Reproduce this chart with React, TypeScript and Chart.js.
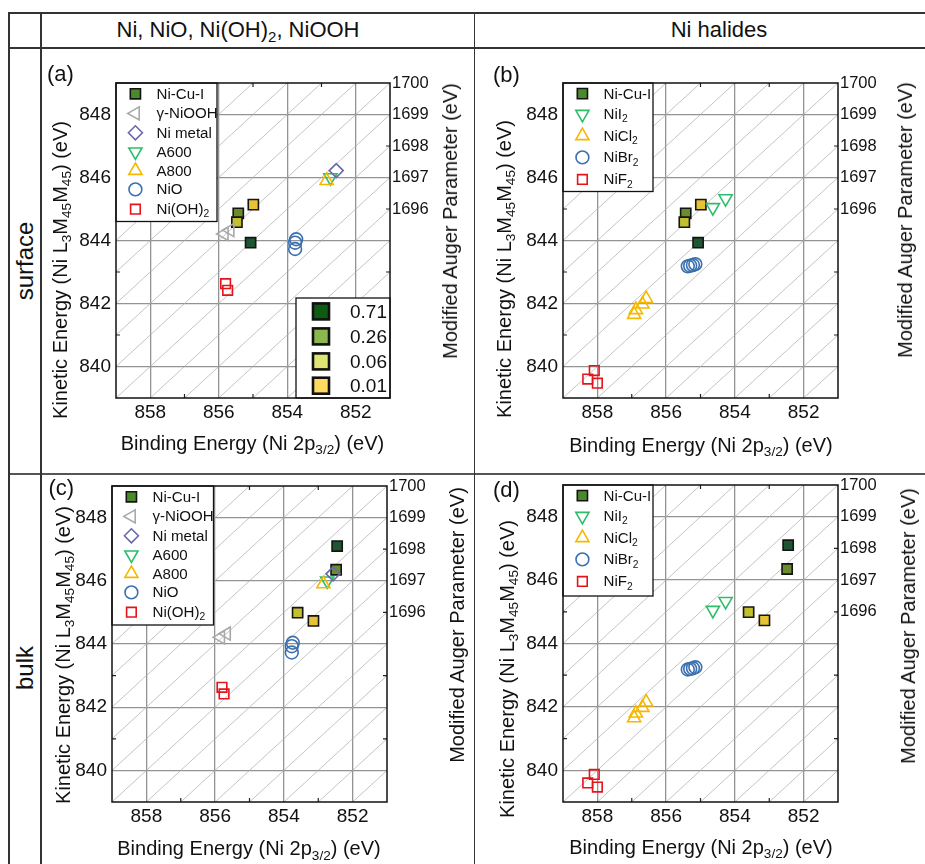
import React, { useEffect, useRef } from 'react';
import { Chart, registerables } from 'chart.js';

Chart.register(...registerables);

const FONT = "'Liberation Sans', Arial, Helvetica, sans-serif";

// ---------- data ----------
// Ni-Cu-I sample points, coloured by fraction
const fractionLabels = ['0.71', '0.26', '0.06', '0.01'];
const fractionSwatchColors = ['#0d5c12', '#8cb64e', '#dde672', '#ffd960'];
const niCuIPointColors = ['#1d5631', '#6b8c2e', '#c3bf2d', '#e8c235'];

const niCuISurfaceBE = [855.07, 855.43, 855.47, 854.99];
const niCuISurfaceKE = [843.93, 844.86, 844.58, 845.14];
const niCuIBulkBE = [852.45, 852.48, 853.6, 853.14];
const niCuIBulkKE = [847.1, 846.35, 844.99, 844.73];

// references: Ni, NiO, Ni(OH)2, NiOOH
const gNiOOHBE = [855.84, 855.67];
const gNiOOHKE = [844.21, 844.33];
const niMetalBE = [852.57];
const niMetalKE = [846.22];
const a600BE = [852.74];
const a600KE = [846.0];
const a800BE = [852.85];
const a800KE = [845.9];
const nioBE = [853.74, 853.77, 853.77];
const nioKE = [844.04, 843.93, 843.73];
const niOH2BE = [855.8, 855.74];
const niOH2KE = [842.63, 842.42];

// references: Ni halides
const niI2BE = [854.64, 854.27];
const niI2KE = [845.05, 845.33];
const niCl2BE = [856.93, 856.88, 856.69, 856.58];
const niCl2KE = [841.65, 841.8, 841.98, 842.15];
const niBr2BE = [855.37, 855.3, 855.22, 855.15];
const niBr2KE = [843.18, 843.2, 843.22, 843.25];
const niF2BE = [858.28, 858.09, 858.0];
const niF2KE = [839.6, 839.87, 839.47];

// axes
const beRange = [851, 859];
const keRange = [839, 849];
const augerRange = [1690, 1700];
const beTicks = [858, 856, 854, 852];
const beMinorTicks = [857, 855, 853];
const keTicks = [840, 842, 844, 846, 848];
const keMinorTicks = [841, 843, 845, 847];
const augerTicks = [1696, 1697, 1698, 1699, 1700];
const augerLines = [1691, 1692, 1693, 1694, 1695, 1696, 1697, 1698, 1699, 1700, 1701, 1702, 1703, 1704, 1705, 1706, 1707];

// ---------- styles ----------
const M: any = {
  niCuI: { style: 'rect', r: 7.2, rot: 0, stroke: '#141414', lw: 1.6 },
  gNiOOH: { style: 'triangle', r: 7.6, rot: 270, stroke: '#a9a9a9', lw: 1.6 },
  niMetal: { style: 'rectRot', r: 7, rot: 0, stroke: '#6868aa', lw: 1.6 },
  down: { style: 'triangle', r: 7.6, rot: 180, stroke: '#2dbd6b', lw: 1.6 },
  up: { style: 'triangle', r: 7.6, rot: 0, stroke: '#f5b800', lw: 1.6 },
  circle: { style: 'circle', r: 6.4, rot: 0, stroke: '#3b70b0', lw: 1.6 },
  square: { style: 'rect', r: 6.8, rot: 0, stroke: '#e5141b', lw: 1.6 },
};
const NI_CU_I_LEGEND_FILL = '#4b8a2b';

function drawMarker(ctx: any, mk: any, x: number, y: number, fill?: string) {
  const r = mk.r;
  ctx.save();
  ctx.beginPath();
  if (mk.style === 'circle') {
    ctx.arc(x, y, r, 0, Math.PI * 2);
  } else if (mk.style === 'rect') {
    const s = r * Math.SQRT1_2;
    ctx.rect(x - s, y - s, 2 * s, 2 * s);
  } else if (mk.style === 'rectRot') {
    ctx.moveTo(x - r, y);
    ctx.lineTo(x, y - r);
    ctx.lineTo(x + r, y);
    ctx.lineTo(x, y + r);
    ctx.closePath();
  } else {
    let a = (mk.rot * Math.PI) / 180;
    for (let i = 0; i < 3; i++) {
      const px = x + Math.sin(a) * r;
      const py = y - Math.cos(a) * r;
      if (i === 0) ctx.moveTo(px, py);
      else ctx.lineTo(px, py);
      a += (2 * Math.PI) / 3;
    }
    ctx.closePath();
  }
  if (fill) {
    ctx.fillStyle = fill;
    ctx.fill();
  }
  ctx.lineWidth = mk.lw;
  ctx.strokeStyle = mk.stroke;
  ctx.stroke();
  ctx.restore();
}

function ds(label: string, be: number[], ke: number[], mk: any, fills?: string[]) {
  return {
    type: 'scatter',
    label,
    data: be.map((x, i) => ({ x, y: ke[i] })),
    showLine: false,
    pointStyle: mk.style,
    pointRadius: mk.r,
    pointHoverRadius: mk.r,
    pointRotation: mk.rot,
    pointBackgroundColor: fills || 'rgba(0,0,0,0)',
    pointBorderColor: mk.stroke,
    pointBorderWidth: mk.lw,
    pointHoverBorderWidth: mk.lw,
  };
}

const refLegend = [
  { label: 'Ni-Cu-I', mk: M.niCuI, fill: NI_CU_I_LEGEND_FILL },
  { label: 'γ-NiOOH', mk: M.gNiOOH },
  { label: 'Ni metal', mk: M.niMetal },
  { label: 'A600', mk: M.down },
  { label: 'A800', mk: M.up },
  { label: 'NiO', mk: M.circle },
  { label: 'Ni(OH)_{2}', mk: M.square },
];
const refRows = [10.8, 30.4, 49.8, 68.8, 87.6, 106.4, 126.2];

const halLegend = [
  { label: 'Ni-Cu-I', mk: M.niCuI, fill: NI_CU_I_LEGEND_FILL },
  { label: 'NiI_{2}', mk: M.down },
  { label: 'NiCl_{2}', mk: M.up },
  { label: 'NiBr_{2}', mk: M.circle },
  { label: 'NiF_{2}', mk: M.square },
];
const halRows = [10.6, 31.2, 52.8, 74.4, 96.4];

function refDatasets(be: number[], ke: number[]) {
  return [
    ds('Ni(OH)2', niOH2BE, niOH2KE, M.square),
    ds('NiO', nioBE, nioKE, M.circle),
    ds('Ni metal', niMetalBE, niMetalKE, M.niMetal),
    ds('A800', a800BE, a800KE, M.up),
    ds('A600', a600BE, a600KE, M.down),
    ds('γ-NiOOH', gNiOOHBE, gNiOOHKE, M.gNiOOH),
    ds('Ni-Cu-I', be, ke, M.niCuI, niCuIPointColors),
  ];
}
function halDatasets(be: number[], ke: number[]) {
  return [
    ds('NiF2', niF2BE, niF2KE, M.square),
    ds('NiBr2', niBr2BE, niBr2KE, M.circle),
    ds('NiCl2', niCl2BE, niCl2KE, M.up),
    ds('NiI2', niI2BE, niI2KE, M.down),
    ds('Ni-Cu-I', be, ke, M.niCuI, niCuIPointColors),
  ];
}

// panel geometry (page pixels)
const AX_L = 80;
const PAD_T = 12;
const AX_R = 62;
const AX_B = 40;

const panels = [
  {
    id: '(a)', L: 116, T: 83, W: 274, H: 315,
    datasets: () => refDatasets(niCuISurfaceBE, niCuISurfaceKE),
    legend: refLegend, rows: refRows, boxW: 101, boxH: 138.5, inset: true,
    tag: [47, 74], leftT: [60, 270], rightT: [450, 221], botT: [252.5, 443],
  },
  {
    id: '(b)', L: 563, T: 83, W: 275, H: 315,
    datasets: () => halDatasets(niCuISurfaceBE, niCuISurfaceKE),
    legend: halLegend, rows: halRows, boxW: 90, boxH: 108.5, inset: false,
    tag: [493, 75], leftT: [503.5, 269], rightT: [905, 220], botT: [701, 445],
  },
  {
    id: '(c)', L: 112, T: 486, W: 275, H: 316,
    datasets: () => refDatasets(niCuIBulkBE, niCuIBulkKE),
    legend: refLegend, rows: refRows, boxW: 101.5, boxH: 139, inset: false,
    tag: [48.5, 488], leftT: [63.3, 655], rightT: [456.7, 625], botT: [249, 848.3],
  },
  {
    id: '(d)', L: 563, T: 485, W: 275, H: 317,
    datasets: () => halDatasets(niCuIBulkBE, niCuIBulkKE),
    legend: halLegend, rows: halRows, boxW: 90, boxH: 111, inset: false,
    tag: [493, 490], leftT: [506.7, 669], rightT: [908.3, 626], botT: [701, 846.7],
  },
];

const decorPlugin: any = {
  id: 'decor',
  beforeDatasetsDraw(chart: any) {
    const { ctx, chartArea: ca, scales } = chart;
    const xs = scales.x;
    const ys = scales.y;
    ctx.save();
    ctx.beginPath();
    ctx.rect(ca.left, ca.top, ca.right - ca.left, ca.bottom - ca.top);
    ctx.clip();
    ctx.strokeStyle = '#ababab';
    ctx.lineWidth = 0.7;
    for (const c of augerLines) {
      const x1 = xs.getPixelForValue(beRange[1]);
      const y1 = ys.getPixelForValue(c - beRange[1]);
      const x2 = xs.getPixelForValue(beRange[0]);
      const y2 = ys.getPixelForValue(c - beRange[0]);
      ctx.beginPath();
      ctx.moveTo(x1, y1);
      ctx.lineTo(x2, y2);
      ctx.stroke();
    }
    ctx.restore();

    // inward minor ticks
    ctx.save();
    ctx.strokeStyle = '#222';
    ctx.lineWidth = 1.2;
    const tl = 4;
    for (const v of beMinorTicks) {
      const x = xs.getPixelForValue(v);
      ctx.beginPath();
      ctx.moveTo(x, ca.bottom);
      ctx.lineTo(x, ca.bottom - tl);
      ctx.moveTo(x, ca.top);
      ctx.lineTo(x, ca.top + tl);
      ctx.stroke();
    }
    for (const v of keMinorTicks) {
      const y = ys.getPixelForValue(v);
      ctx.beginPath();
      ctx.moveTo(ca.left, y);
      ctx.lineTo(ca.left + tl, y);
      ctx.moveTo(ca.right, y);
      ctx.lineTo(ca.right - tl, y);
      ctx.stroke();
    }
    ctx.restore();
  },
  afterDatasetsDraw(chart: any, _a: any, opts: any) {
    const { ctx, chartArea: ca } = chart;
    // legend box
    ctx.save();
    ctx.fillStyle = '#fff';
    ctx.fillRect(ca.left, ca.top, opts.boxW, opts.boxH);
    ctx.strokeStyle = '#111';
    ctx.lineWidth = 1.3;
    ctx.strokeRect(ca.left, ca.top, opts.boxW, opts.boxH);
    opts.legend.forEach((e: any, i: number) => {
      drawMarker(ctx, e.mk, ca.left + 19.4, ca.top + opts.rows[i], e.fill);
    });
    ctx.restore();

    if (opts.inset) {
      const bw = 94;
      const bh = 100;
      const bx = ca.right - bw;
      const by = ca.bottom - bh;
      ctx.save();
      ctx.fillStyle = '#fff';
      ctx.fillRect(bx, by, bw, bh);
      ctx.strokeStyle = '#111';
      ctx.lineWidth = 1.3;
      ctx.strokeRect(bx, by, bw, bh);
      const rowsY = [13.4, 38.4, 63.4, 87.7];
      ctx.font = `19px ${FONT}`;
      ctx.textBaseline = 'middle';
      ctx.textAlign = 'left';
      fractionLabels.forEach((lab, i) => {
        const cy = by + rowsY[i];
        ctx.fillStyle = fractionSwatchColors[i];
        ctx.fillRect(bx + 25 - 8, cy - 8, 16, 16);
        ctx.lineWidth = 2.6;
        ctx.strokeStyle = '#111';
        ctx.strokeRect(bx + 25 - 8, cy - 8, 16, 16);
        ctx.fillStyle = '#111';
        ctx.fillText(lab, bx + 54, cy + 1);
      });
      ctx.restore();
    }

    // frame
    ctx.save();
    ctx.strokeStyle = '#111';
    ctx.lineWidth = 1.5;
    ctx.strokeRect(ca.left, ca.top, ca.right - ca.left, ca.bottom - ca.top);
    ctx.restore();
  },
};

function Rich({ text }: { text: string }) {
  const parts = text.split(/(_\{[^}]*\})/);
  return (
    <>
      {parts.map((p, i) =>
        p.startsWith('_{') ? (
          <span key={i} style={{ fontSize: '0.68em', position: 'relative', top: '0.32em', lineHeight: 0 }}>
            {p.slice(2, -1)}
          </span>
        ) : (
          <span key={i}>{p}</span>
        )
      )}
    </>
  );
}

function Txt({ x, y, size, text, rotate, anchor }: any) {
  const tr = rotate
    ? 'translate(-50%,-50%) rotate(-90deg)'
    : anchor === 'left'
    ? 'translate(0,-50%)'
    : 'translate(-50%,-50%)';
  return (
    <div
      style={{
        position: 'absolute',
        left: x,
        top: y,
        transform: tr,
        fontSize: size,
        lineHeight: 1,
        whiteSpace: 'nowrap',
        color: '#111',
      }}
    >
      <Rich text={text} />
    </div>
  );
}

function Panel({ p }: { p: any }) {
  const ref = useRef<HTMLCanvasElement>(null);
  const cw = AX_L + p.W + AX_R;
  const ch = PAD_T + p.H + AX_B;
  useEffect(() => {
    if (!ref.current) return;
    const fixPad = (s: any) => {
      s.paddingLeft = 0;
      s.paddingRight = 0;
      s.paddingTop = 0;
      s.paddingBottom = 0;
    };
    const chart = new Chart(ref.current, {
      type: 'scatter',
      data: { datasets: p.datasets() as any },
      plugins: [decorPlugin],
      options: {
        responsive: false,
        animation: false,
        events: [],
        layout: { padding: { left: 0, top: PAD_T, right: 0, bottom: 0 } },
        plugins: {
          legend: { display: false },
          tooltip: { enabled: false },
          decor: { legend: p.legend, rows: p.rows, boxW: p.boxW, boxH: p.boxH, inset: p.inset },
        } as any,
        scales: {
          x: {
            type: 'linear',
            position: 'bottom',
            min: beRange[0],
            max: beRange[1],
            reverse: true,
            afterBuildTicks: (s: any) => {
              s.ticks = beTicks.map((v) => ({ value: v }));
            },
            afterFit: (s: any) => {
              s.height = AX_B;
              fixPad(s);
            },
            grid: { color: '#939393', lineWidth: 1.3, drawTicks: false },
            border: { display: false },
            ticks: {
              autoSkip: false,
              maxRotation: 0,
              padding: 3,
              color: '#111',
              font: { family: FONT, size: 19 },
              callback: (v: any) => String(v),
            },
          },
          y: {
            type: 'linear',
            position: 'left',
            min: keRange[0],
            max: keRange[1],
            afterBuildTicks: (s: any) => {
              s.ticks = keTicks.map((v) => ({ value: v }));
            },
            afterFit: (s: any) => {
              s.width = AX_L;
              fixPad(s);
            },
            grid: { color: '#939393', lineWidth: 1.3, drawTicks: false },
            border: { display: false },
            ticks: {
              autoSkip: false,
              padding: 5,
              color: '#111',
              font: { family: FONT, size: 19 },
              callback: (v: any) => String(v),
            },
          },
          y2: {
            type: 'linear',
            position: 'right',
            min: augerRange[0],
            max: augerRange[1],
            afterBuildTicks: (s: any) => {
              s.ticks = augerTicks.map((v) => ({ value: v }));
            },
            afterFit: (s: any) => {
              s.width = AX_R;
              fixPad(s);
            },
            grid: { display: false, drawTicks: false },
            border: { display: false },
            ticks: {
              autoSkip: false,
              padding: 2,
              color: '#111',
              font: { family: FONT, size: 16.5 },
              callback: (v: any) => String(v),
            },
          },
        } as any,
      },
    });
    return () => chart.destroy();
  }, []);

  return (
    <>
      <canvas
        ref={ref}
        width={cw}
        height={ch}
        style={{ position: 'absolute', left: p.L - AX_L, top: p.T - PAD_T, width: cw, height: ch }}
      />
      {p.legend.map((e: any, i: number) => (
        <Txt key={i} x={p.L + 40.5} y={p.T + p.rows[i]} size={15.1} text={e.label} anchor="left" />
      ))}
      <Txt x={p.tag[0]} y={p.tag[1]} size={22} text={p.id} anchor="left" />
      <Txt x={p.leftT[0]} y={p.leftT[1]} size={20} text="Kinetic Energy (Ni L_{3}M_{45}M_{45}) (eV)" rotate />
      <Txt x={p.rightT[0]} y={p.rightT[1]} size={20} text="Modified Auger Parameter (eV)" rotate />
      <Txt x={p.botT[0]} y={p.botT[1]} size={20} text="Binding Energy (Ni 2p_{3/2}) (eV)" />
    </>
  );
}

const LINE = '#333';

export default function App() {
  return (
    <div
      style={{
        position: 'fixed',
        left: 0,
        top: 0,
        width: 925,
        height: 864,
        background: '#fff',
        overflow: 'hidden',
        fontFamily: FONT,
      }}
    >
      {/* table rules */}
      <div style={{ position: 'absolute', left: 8, top: 12, width: 917, height: 1.5, background: LINE }} />
      <div style={{ position: 'absolute', left: 8, top: 47, width: 917, height: 1.5, background: LINE }} />
      <div style={{ position: 'absolute', left: 8, top: 473, width: 917, height: 1.5, background: '#555' }} />
      <div style={{ position: 'absolute', left: 8, top: 12, width: 1.5, height: 852, background: LINE }} />
      <div style={{ position: 'absolute', left: 40, top: 12, width: 1.5, height: 852, background: LINE }} />
      <div style={{ position: 'absolute', left: 473.5, top: 12, width: 1.5, height: 852, background: LINE }} />

      <Txt x={238} y={30} size={22} text="Ni, NiO, Ni(OH)_{2}, NiOOH" />
      <Txt x={719} y={30} size={22} text="Ni halides" />
      <Txt x={25} y={261} size={24} text="surface" rotate />
      <Txt x={25} y={668} size={24} text="bulk" rotate />

      {panels.map((p) => (
        <Panel key={p.id} p={p} />
      ))}
    </div>
  );
}
